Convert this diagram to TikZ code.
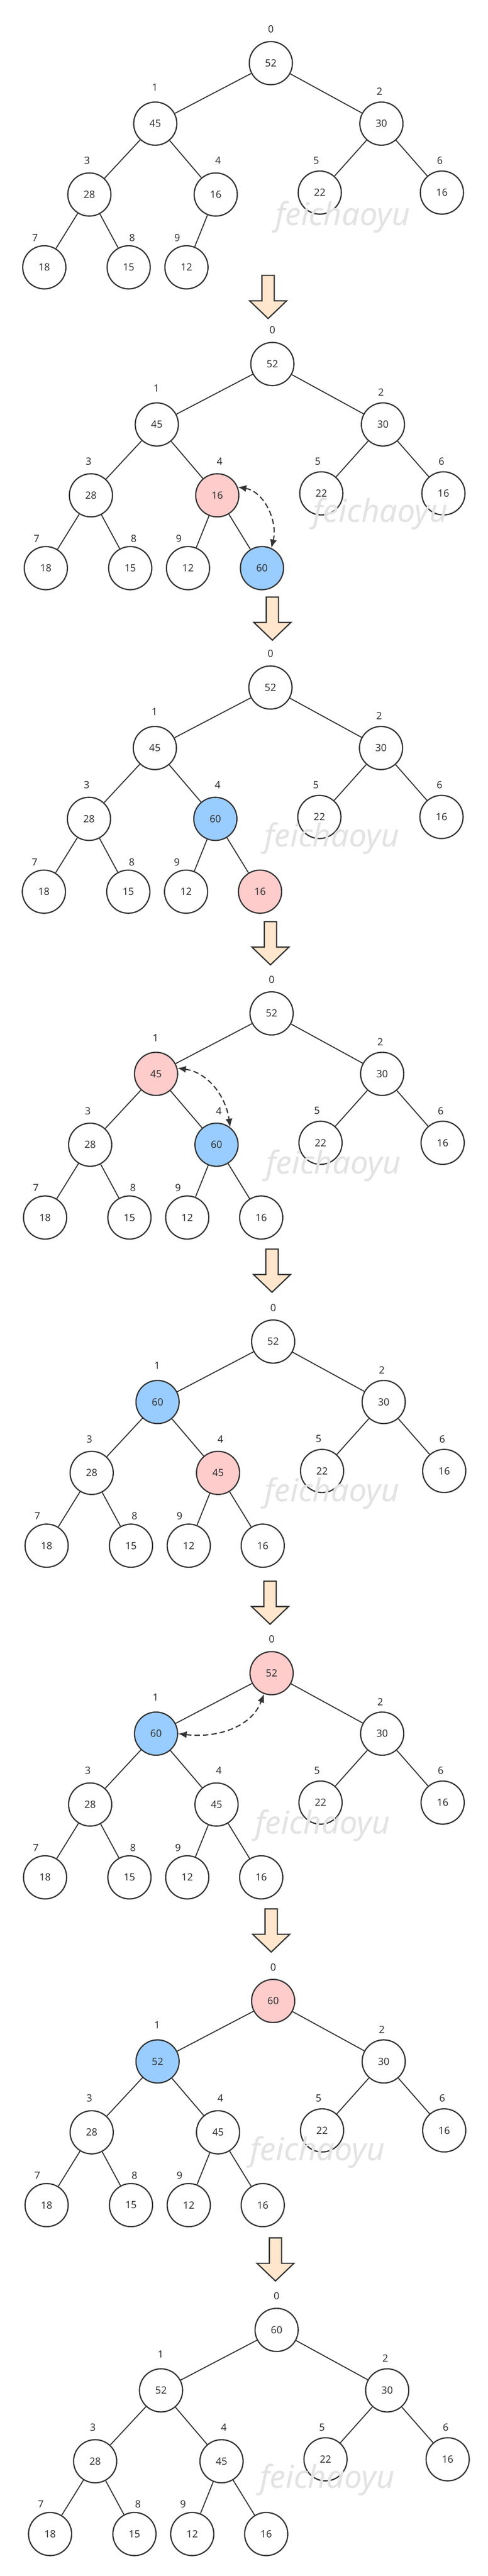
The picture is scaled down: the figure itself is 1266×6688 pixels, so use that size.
\documentclass[tikz,border=0pt]{standalone}
\usepackage{fontspec}
\setmainfont{Noto Sans}
\usetikzlibrary{arrows.meta}
\definecolor{Ink}{HTML}{333333}
\definecolor{SwapPink}{HTML}{FFCCCC}
\definecolor{SwapBlue}{HTML}{99CCFF}
\definecolor{StepFill}{HTML}{FFE6CC}
\definecolor{MarkGray}{HTML}{E3E3E3}
\tikzset{
  heapnode/.style={circle, draw=Ink, line width=1.6pt, minimum size=56pt, inner sep=0pt, text=Ink, font=\fontsize{13}{15}\selectfont},
  treeedge/.style={draw=Ink, line width=1.3pt},
  index/.style={text=Ink, inner sep=0pt, font=\fontsize{13}{15}\selectfont},
  swapline/.style={{Latex[length=11pt,width=9pt]}-{Latex[length=11pt,width=9pt]}, draw=Ink, line width=1.5pt, dash pattern=on 7pt off 4pt},
  steparrow/.style={draw=Ink, fill=StepFill, line width=1.6pt, line join=miter},
  watermark/.style={text=MarkGray, anchor=base west, inner sep=0pt, font=\fontsize{41}{48}\selectfont\itshape},
}
% offsets of heap slot i from the root, in pixels
\def\nodex{{0,-300,287,-471,-143,127,444,-588,-369,-219,-27}}
\def\nodey{{0,157,157,341,341,336,336,530,530,530,530}}
% offsets of the index above slot i
\def\indexdx{{0,-1,-5,-6,6,-9,-5,-24,9,-24}}
\def\indexdy{{-88,-94,-83,-88,-88,-83,-83,-77,-77,-77}}
% #1 tree name, #2 root position, #3 slot/value/fill list
\newcommand{\drawheap}[3]{%
  \begin{scope}[shift={#2}]
    \foreach \i/\v/\f in {#3}
      \node[heapnode, fill=\f] (#1n\i) at ({\nodex[\i]},{\nodey[\i]}) {\v};
    \foreach \i in {0,...,9}
      \node[index] (#1i\i) at ({\nodex[\i]+\indexdx[\i]},{\nodey[\i]+\indexdy[\i]}) {\i};
    \foreach \i/\v/\f in {#3}{
      \ifnum\i>0
        \pgfmathtruncatemacro{\p}{(\i-1)/2}
        \draw[treeedge] (#1n\p) -- (#1n\i);
      \fi
    }
  \end{scope}
}

\begin{document}
\begin{tikzpicture}[x=0.5pt, y=-0.5pt]
  \fill[white] (0,0) rectangle (1266,6688);
  \useasboundingbox (0,0) rectangle (1266,6688);

  % initial heap
  \drawheap{t1}{(703,164)}{0/52/white,1/45/white,2/30/white,3/28/white,4/16/white,5/22/white,6/16/white,7/18/white,8/15/white,9/12/white}
  \node[watermark] (t1mark) at (714,585) {feichaoyu};

  % 60 appended at slot 10
  \drawheap{t2}{(707,945)}{0/52/white,1/45/white,2/30/white,3/28/white,4/16/SwapPink,5/22/white,6/16/white,7/18/white,8/15/white,9/12/white,10/60/SwapBlue}
  \draw[swapline] (t2n4.22) to[out=-10, in=76] (t2n10.65);
  \node[watermark] (t2mark) at (812,1356) {feichaoyu};

  % after first swap
  \drawheap{t3}{(702,1785)}{0/52/white,1/45/white,2/30/white,3/28/white,4/60/SwapBlue,5/22/white,6/16/white,7/18/white,8/15/white,9/12/white,10/16/SwapPink}
  \node[watermark] (t3mark) at (686,2198) {feichaoyu};

  % compare with slot 1
  \drawheap{t4}{(705,2631)}{0/52/white,1/45/SwapPink,2/30/white,3/28/white,4/60/SwapBlue,5/22/white,6/16/white,7/18/white,8/15/white,9/12/white,10/16/white}
  \draw[swapline] (t4n1.15) to[out=-8, in=98] (t4n4.52);
  \node[watermark] (t4mark) at (690,3048) {feichaoyu};

  % after second swap
  \drawheap{t5}{(709,3483)}{0/52/white,1/60/SwapBlue,2/30/white,3/28/white,4/45/SwapPink,5/22/white,6/16/white,7/18/white,8/15/white,9/12/white,10/16/white}
  \node[watermark] (t5mark) at (686,3898) {feichaoyu};

  % compare with the root
  \drawheap{t6}{(705,4344)}{0/52/SwapPink,1/60/SwapBlue,2/30/white,3/28/white,4/45/white,5/22/white,6/16/white,7/18/white,8/15/white,9/12/white,10/16/white}
  \draw[swapline] (t6n1.0) to[out=-7, in=-111] (t6n0.-110);
  \node[watermark] (t6mark) at (662,4761) {feichaoyu};

  % after third swap
  \drawheap{t7}{(709,5195)}{0/60/SwapPink,1/52/SwapBlue,2/30/white,3/28/white,4/45/white,5/22/white,6/16/white,7/18/white,8/15/white,9/12/white,10/16/white}
  \node[watermark] (t7mark) at (649,5609) {feichaoyu};

  % final heap
  \drawheap{t8}{(718,6049)}{0/60/white,1/52/white,2/30/white,3/28/white,4/45/white,5/22/white,6/16/white,7/18/white,8/15/white,9/12/white,10/16/white}
  \node[watermark] (t8mark) at (674,6460) {feichaoyu};

  % step arrows between the heaps
  \foreach \x/\y in {696/715,707/1550,702/2393,706/3243,701/4105,704/4956,715/5810}
    \draw[steparrow] (\x,\y) ++(-16,0) -- ++(0,66) -- ++(-32,0) -- ++(48,46) -- ++(48,-46) -- ++(-32,0) -- ++(0,-66) -- cycle;
\end{tikzpicture}
\end{document}
